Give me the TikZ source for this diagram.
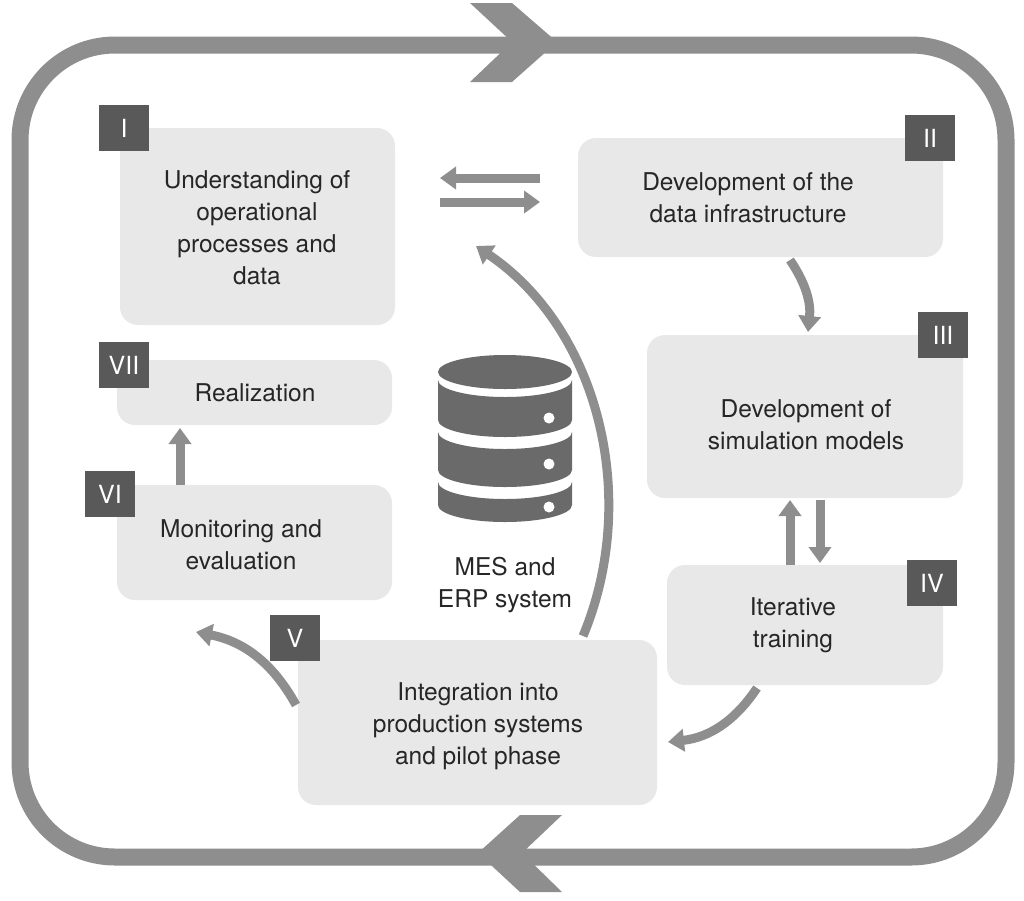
\documentclass[tikz,border=0pt]{standalone}
\usepackage{fontspec}
\setmainfont{TeX Gyre Heros}
\usetikzlibrary{arrows.meta}
\definecolor{ln}{HTML}{8E8E8E}
\definecolor{bx}{HTML}{E8E8E8}
\definecolor{lb}{HTML}{595959}
\definecolor{db}{HTML}{6A6A6A}
\begin{document}
\begin{tikzpicture}[x=1pt,y=-1pt,
 box/.style={fill=bx,rounded corners=18pt},
 lab/.style={fill=lb,text=white,minimum width=50pt,minimum height=46pt,inner sep=0pt,font=\fontsize{25}{25}\selectfont},
 txt/.style={align=center,font=\fontsize{24.5}{32}\selectfont,text=black!85},
 ar/.style={draw=ln,line width=9pt,-{Triangle[length=16pt,width=22pt]}}]
\useasboundingbox (0,0) rectangle (1024,900);
% outer frame
\draw[ln,line width=17pt,rounded corners=95pt] (20,45) rectangle (1006,857);
\fill[ln] (470,3) -- (512,3) -- (557,42) -- (512,82) -- (470,82) -- (512,42) -- cycle;
\fill[ln] (562,815) -- (520,815) -- (478,853) -- (520,892) -- (562,892) -- (522,853) -- cycle;
% boxes
\fill[box] (120,128) rectangle (395,325);
\fill[box] (578,138) rectangle (943,257);
\fill[box] (647,335) rectangle (963,498);
\fill[box] (667,565) rectangle (943,685);
\fill[box] (298,640) rectangle (657,805);
\fill[box] (117,485) rectangle (392,600);
\fill[box] (117,360) rectangle (392,425);
\node[txt] (t1) at (257,228) {Understanding of\\operational\\processes and\\data};
\node[txt] (t2) at (748,198) {Development of the\\data infrastructure};
\node[txt] (t3) at (806,425) {Development of\\simulation models};
\node[txt] (t4) at (793,625) {Iterative\\training};
\node[txt] (t5) at (478,726) {Integration into\\production systems\\and pilot phase};
\node[txt] (t6) at (241,545) {Monitoring and\\evaluation};
\node[txt] (t7) at (255,393) {Realization};
\node[lab] (l1) at (124,128) {I};
\node[lab] (l2) at (930,138) {II};
\node[lab] (l3) at (943,335) {III};
\node[lab] (l4) at (932,583) {IV};
\node[lab] (l5) at (295,638) {V};
\node[lab] (l6) at (110,494) {VI};
\node[lab] (l7) at (124,365) {VII};
% arrows
\coordinate (a1s) at (540,178); \coordinate (a1e) at (440,178);
\coordinate (a2s) at (440,202); \coordinate (a2e) at (540,202);
\draw[ar] (a1s) -- (a1e);
\draw[ar] (a2s) -- (a2e);
\coordinate (b1) at (790,260); \coordinate (b2) at (808,332);
\draw[ar] (b1) to[bend left=20] (b2);
\coordinate (c1) at (790,565); \coordinate (c2) at (790,500);
\draw[ar] (c1) -- (c2);
\coordinate (c3) at (820,500); \coordinate (c4) at (820,563);
\draw[ar] (c3) -- (c4);
\coordinate (d1) at (757,688); \coordinate (d2) at (668,742);
\draw[ar] (d1) to[bend left=25] (d2);
\coordinate (e1) at (296,705); \coordinate (e2) at (196,632);
\draw[ar] (e1) to[bend left=-25] (e2);
\coordinate (f1) at (180,485); \coordinate (f2) at (180,428);
\draw[ar] (f1) -- (f2);
\coordinate (g1) at (583,636); \coordinate (g2) at (476,246);
\draw[ar] (g1) .. controls (640,500) and (600,330) .. (g2);
% database
\fill[db] (505,372) ellipse[x radius=67,y radius=17];
\foreach \yt/\yb in {380/420,432/470,482/505}{
 \fill[db] (438,\yt) arc[start angle=180,end angle=0,x radius=67,y radius=17] -- (572,\yb) arc[start angle=0,end angle=180,x radius=67,y radius=17] -- cycle;}
\foreach \yy in {418,464,507} \fill[white] (549,\yy) circle[radius=5.5];
\node[txt] (db) at (505,585) {MES and\\ERP system};
\end{tikzpicture}
\end{document}
